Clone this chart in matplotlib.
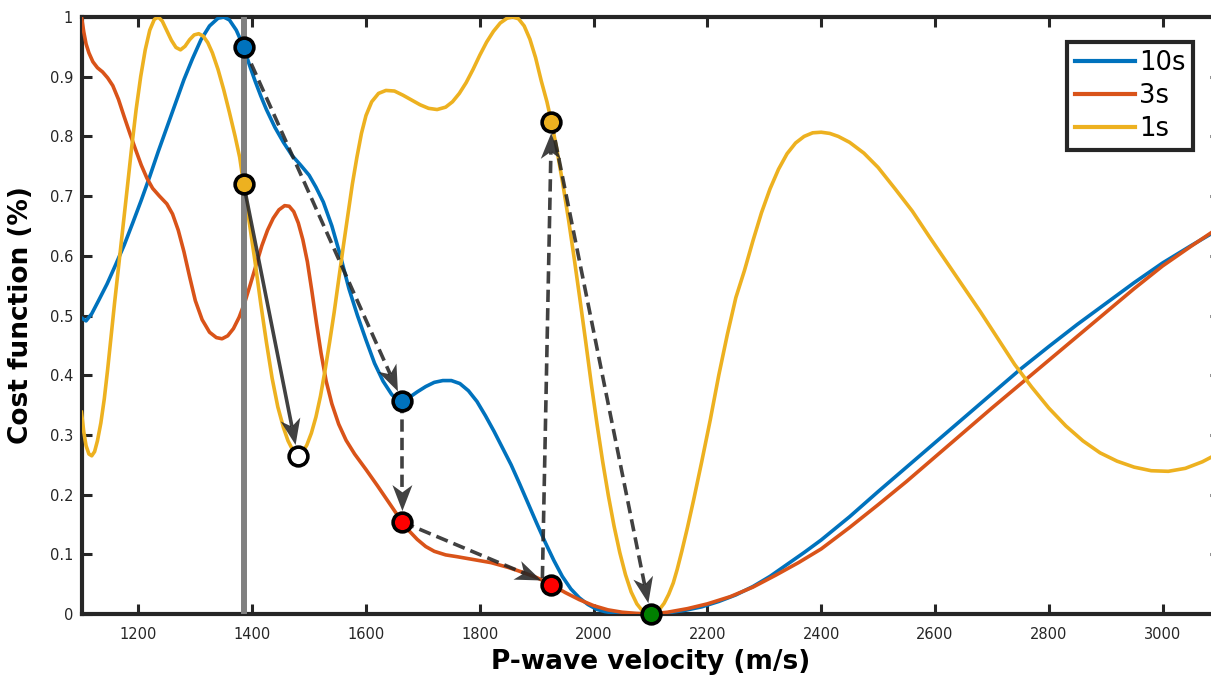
import numpy as np
import matplotlib
import matplotlib.pyplot as plt
from matplotlib.patches import Polygon
from matplotlib.ticker import FuncFormatter

matplotlib.use('Agg')

# velocity (m/s) and normalised cost for each window length
vel_10s = [1100, 1108, 1118, 1130, 1145, 1160, 1175, 1190, 1205, 1220, 1235, 1250,
           1265, 1280, 1295, 1310, 1325, 1340, 1350, 1360, 1372, 1385, 1395, 1405,
           1415, 1425, 1440, 1455, 1470, 1485, 1500, 1512, 1525, 1540, 1555, 1570,
           1585, 1600, 1615, 1630, 1645, 1655, 1664, 1675, 1690, 1705, 1720, 1735,
           1750, 1765, 1780, 1795, 1810, 1825, 1840, 1855, 1870, 1885, 1900, 1915,
           1930, 1945, 1960, 1975, 1990, 2005, 2020, 2040, 2060, 2100, 2130, 2160,
           2190, 2220, 2250, 2280, 2310, 2340, 2370, 2400, 2450, 2500, 2550, 2600,
           2650, 2700, 2750, 2800, 2850, 2900, 2950, 3000, 3050, 3100]
cost_10s = [0.496, 0.491, 0.503, 0.525, 0.553, 0.585, 0.618, 0.655, 0.693, 0.733, 0.775, 0.815,
            0.855, 0.895, 0.93, 0.962, 0.985, 0.998, 1.0, 0.995, 0.978, 0.95, 0.92, 0.893,
            0.868, 0.845, 0.815, 0.79, 0.768, 0.752, 0.735, 0.715, 0.69, 0.65, 0.60, 0.545,
            0.50, 0.459, 0.42, 0.39, 0.368, 0.358, 0.356, 0.362, 0.372, 0.381, 0.388, 0.391,
            0.391, 0.386, 0.374, 0.356, 0.332, 0.306, 0.278, 0.25, 0.218, 0.185, 0.152, 0.12,
            0.09, 0.063, 0.042, 0.027, 0.016, 0.008, 0.004, 0.001, 0.0, 0.0, 0.002, 0.006,
            0.012, 0.021, 0.032, 0.046, 0.063, 0.083, 0.103, 0.124, 0.163, 0.205, 0.246, 0.287,
            0.328, 0.369, 0.41, 0.448, 0.485, 0.52, 0.555, 0.588, 0.617, 0.645]

vel_3s = [1100, 1104, 1108, 1113, 1120, 1128, 1137, 1146, 1155, 1165, 1175, 1185,
          1195, 1205, 1215, 1225, 1237, 1250, 1260, 1270, 1280, 1290, 1300, 1312,
          1325, 1337, 1347, 1357, 1367, 1377, 1387, 1397, 1407, 1417, 1427, 1437,
          1447, 1457, 1465, 1473, 1481, 1489, 1497, 1505, 1513, 1521, 1530, 1540,
          1552, 1565, 1580, 1600, 1620, 1640, 1655, 1664, 1675, 1690, 1705, 1720,
          1740, 1760, 1790, 1820, 1850, 1875, 1900, 1926, 1950, 1975, 2000, 2025,
          2050, 2075, 2100, 2130, 2165, 2200, 2240, 2280, 2320, 2360, 2400, 2450,
          2500, 2550, 2600, 2650, 2700, 2750, 2800, 2850, 2900, 2950, 3000, 3050, 3100]
cost_3s = [1.0, 0.975, 0.955, 0.94, 0.925, 0.915, 0.908, 0.898, 0.885, 0.862, 0.833, 0.805,
           0.778, 0.752, 0.73, 0.713, 0.70, 0.687, 0.67, 0.643, 0.607, 0.565, 0.525, 0.493,
           0.472, 0.463, 0.461, 0.466, 0.478, 0.497, 0.522, 0.553, 0.585, 0.617, 0.643, 0.663,
           0.677, 0.684, 0.683, 0.674, 0.655, 0.627, 0.59, 0.54, 0.487, 0.437, 0.39, 0.352,
           0.318, 0.291, 0.268, 0.242, 0.215, 0.187, 0.166, 0.154, 0.14, 0.125, 0.113, 0.105,
           0.099, 0.096, 0.091, 0.086, 0.078, 0.07, 0.061, 0.049, 0.036, 0.024, 0.014, 0.007,
           0.003, 0.001, 0.0, 0.003, 0.009, 0.017, 0.029, 0.045, 0.065, 0.086, 0.109, 0.145,
           0.183, 0.222, 0.263, 0.304, 0.345, 0.385, 0.425, 0.465, 0.505, 0.545, 0.583, 0.616, 0.648]

vel_1s = [1100, 1104, 1108, 1113, 1118, 1123, 1128, 1134, 1140, 1146, 1152, 1158,
          1165, 1172, 1180, 1188, 1196, 1204, 1212, 1220, 1228, 1235, 1242, 1250,
          1258, 1266, 1274, 1282, 1290, 1298, 1306, 1314, 1322, 1330, 1340, 1350,
          1360, 1370, 1378, 1385, 1395, 1405, 1415, 1425, 1435, 1445, 1455, 1463,
          1471, 1480, 1488, 1496, 1504, 1512, 1520, 1528, 1536, 1544, 1552, 1560,
          1568, 1576, 1584, 1592, 1600, 1610, 1622, 1635, 1650, 1665, 1680, 1695,
          1710, 1725, 1740, 1752, 1764, 1776, 1788, 1800, 1812, 1824, 1836, 1848,
          1858, 1868, 1878, 1888, 1898, 1908, 1918, 1926, 1936, 1946, 1956, 1966,
          1976, 1986, 1996, 2006, 2016, 2026, 2036, 2046, 2056, 2066, 2076, 2086,
          2094, 2100, 2108, 2116, 2124, 2132, 2140, 2147, 2155, 2165, 2176, 2190,
          2205, 2220, 2235, 2250, 2265, 2280, 2295, 2310, 2325, 2340, 2355, 2370,
          2385, 2400, 2415, 2430, 2450, 2475, 2500, 2530, 2560, 2590, 2620, 2650,
          2680, 2710, 2740, 2770, 2800, 2830, 2860, 2890, 2920, 2950, 2980, 3010,
          3040, 3070, 3100]
cost_1s = [0.338, 0.305, 0.282, 0.268, 0.265, 0.272, 0.29, 0.32, 0.36, 0.41, 0.465, 0.52,
           0.58, 0.64, 0.71, 0.78, 0.845, 0.90, 0.945, 0.978, 0.996, 1.0, 0.993, 0.977,
           0.961, 0.949, 0.945, 0.951, 0.962, 0.97, 0.972, 0.968, 0.957, 0.94, 0.912, 0.878,
           0.84, 0.80, 0.765, 0.72, 0.655, 0.59, 0.52, 0.455, 0.395, 0.347, 0.312, 0.29,
           0.275, 0.265, 0.27, 0.283, 0.303, 0.33, 0.365, 0.408, 0.455, 0.505, 0.56, 0.615,
           0.668, 0.72, 0.765, 0.805, 0.835, 0.858, 0.872, 0.877, 0.876, 0.869, 0.861, 0.853,
           0.847, 0.845, 0.849, 0.858, 0.872, 0.89, 0.912, 0.936, 0.958, 0.976, 0.99, 0.998,
           1.0, 0.997, 0.985, 0.963, 0.932, 0.893, 0.858, 0.824, 0.775, 0.72, 0.66, 0.595,
           0.527, 0.457, 0.385, 0.318, 0.255, 0.198, 0.147, 0.103, 0.066, 0.037, 0.017, 0.005,
           0.001, 0.0, 0.002, 0.008, 0.018, 0.033, 0.052, 0.075, 0.105, 0.145, 0.192, 0.255,
           0.325, 0.40, 0.468, 0.53, 0.575, 0.625, 0.672, 0.712, 0.745, 0.771, 0.789, 0.80,
           0.806, 0.807, 0.805, 0.80, 0.79, 0.772, 0.748, 0.712, 0.675, 0.632, 0.59, 0.548,
           0.506, 0.462, 0.418, 0.38, 0.345, 0.315, 0.29, 0.27, 0.256, 0.246, 0.24, 0.239,
           0.244, 0.255, 0.27]

start_vel = 1385

# search path markers
pts_x = [1385, 1385, 1480, 1664, 1664, 1926, 1926, 2100]
pts_y = [0.95, 0.72, 0.265, 0.356, 0.154, 0.049, 0.824, 0.0]
pts_c = ['#0072BD', '#EDB120', 'white', '#0072BD', 'red', 'red', '#EDB120', 'green']

# arrows: start, end, dashed?
arrows = [
    ((1385, 0.72), (1480, 0.265), False),
    ((1385, 0.95), (1664, 0.356), True),
    ((1664, 0.356), (1664, 0.154), True),
    ((1664, 0.154), (1926, 0.049), True),
    ((1910, 0.06), (1926, 0.824), True),
    ((1926, 0.824), (2100, 0.0), True),
]

fig = plt.figure(figsize=(12.11, 6.77), dpi=100)
ax = fig.add_axes([81.5 / 1211, 63 / 677, 1138 / 1211, 597 / 677])
ax.set_xlim(1100, 3100)
ax.set_ylim(0, 1)

ax.plot(vel_10s, cost_10s, color='#0072BD', lw=2.6, label='10s', zorder=3)
ax.plot(vel_3s, cost_3s, color='#D95319', lw=2.6, label='3s', zorder=3)
ax.plot(vel_1s, cost_1s, color='#EDB120', lw=2.6, label='1s', zorder=3)

ax.axvline(start_vel, color='#808080', lw=4.3, zorder=4)

# arrows: shaft as a line, notched head as a polygon (worked out in pixels)
arrow_col = '#262626'
to_px = ax.transData
to_data = ax.transData.inverted()
marker_r = 11   # px
head_len = 26   # px
head_w = 20     # px
for (x0, y0), (x1, y1), dashed in arrows:
    p0 = np.array(to_px.transform((x0, y0)))
    p1 = np.array(to_px.transform((x1, y1)))
    u = (p1 - p0) / np.hypot(*(p1 - p0))
    n = np.array([-u[1], u[0]])
    tip = p1 - u * marker_r
    back = tip - u * head_len
    notch = tip - u * head_len * 0.72
    s_end = to_data.transform(notch)
    ax.plot([x0, s_end[0]], [y0, s_end[1]], color=arrow_col, alpha=0.88, lw=2.6,
            linestyle=(0, (3.4, 1.7)) if dashed else '-', solid_capstyle='butt',
            zorder=5)
    head = [tip, back + n * head_w / 2, notch, back - n * head_w / 2]
    ax.add_patch(Polygon(to_data.transform(head), closed=True, facecolor=arrow_col,
                         edgecolor='none', alpha=0.88, zorder=5))

for x, y, c in zip(pts_x, pts_y, pts_c):
    ax.plot(x, y, 'o', ms=13.5, mfc=c, mec='black', mew=2.6, zorder=6, clip_on=False)

ax.set_xticks(np.arange(1200, 3001, 200))
ax.set_yticks(np.arange(0, 1.01, 0.1))
ax.yaxis.set_major_formatter(FuncFormatter(lambda v, p: f'{v:g}'))

for s in ax.spines.values():
    s.set_linewidth(3)
    s.set_color('#262626')
ax.tick_params(direction='in', length=7, width=2.2, color='#262626',
               labelcolor='#262626', labelsize=10.5, top=True, right=True, pad=6)
ax.tick_params(axis='x', pad=9.5)

ax.set_xlabel('P-wave velocity (m/s)', fontsize=19, fontweight='bold', labelpad=5)
ax.set_ylabel('Cost function (%)', fontsize=19, fontweight='bold', labelpad=11)

leg = ax.legend(loc='upper right', bbox_to_anchor=(0.9767, 0.958), borderaxespad=0,
                fontsize=18.5, fancybox=False, framealpha=1, edgecolor='#262626',
                handlelength=2.35, handletextpad=0.15, labelspacing=0.28, borderpad=0.3)
leg.get_frame().set_linewidth(3)
for line in leg.get_lines():
    line.set_linewidth(3)

fig.savefig('out.png', dpi=100)
